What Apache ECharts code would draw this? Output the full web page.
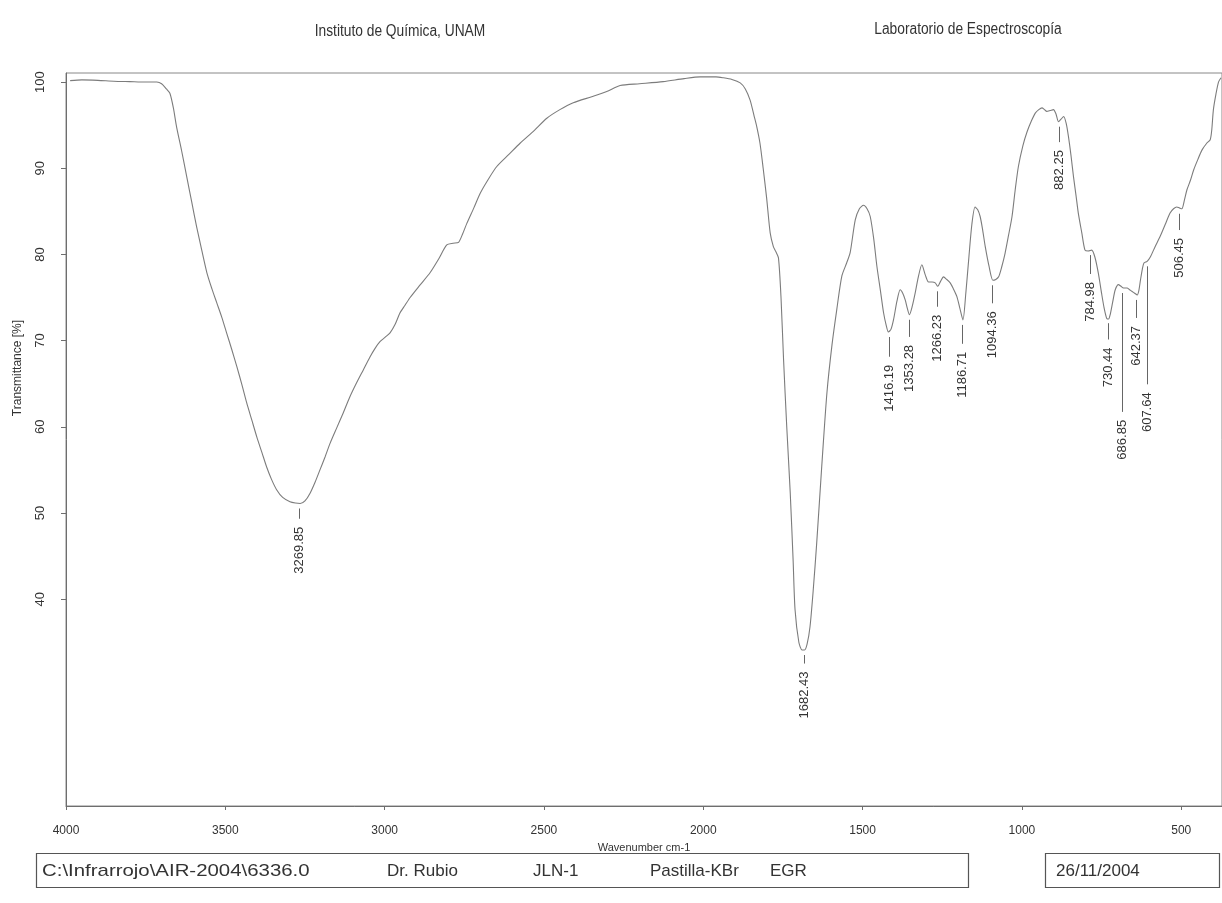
<!DOCTYPE html>
<html>
<head>
<meta charset="utf-8">
<script src="https://cdn.jsdelivr.net/npm/echarts@6/dist/echarts.min.js"></script>
<style>
html,body{margin:0;padding:0;background:#fff;}
#chart{width:1222px;height:903px;}
</style>
</head>
<body>
<div id="chart"></div>
<script>
// ---- Data ----
const wavenumbers = [3987,3950,3900,3850,3800,3750,3715,3700,3685,3674,3663,3653,3637,3621,3605,3590,3574,3558,3542,3527,3511,3496,3480,3464,3448,3433,3417,3401,3385,3370,3355,3339,3320,3297,3280,3265,3250,3234,3218,3203,3187,3171,3150,3130,3110,3088,3067,3046,3030,3014,2998,2983,2967,2952,2936,2920,2890,2857,2830,2805,2785,2768,2755,2742,2720,2700,2675,2648,2610,2575,2530,2491,2450,2408,2350,2303,2261,2200,2126,2060,2010,1960,1938,1910,1884,1868,1853,1840,1832,1822,1812,1801,1790,1780,1772,1764,1756,1748,1738,1727,1718,1712,1700,1690,1682,1674,1665,1655,1644,1628,1612,1596,1581,1565,1550,1539,1523,1510,1497,1486,1476,1465,1455,1444,1434,1426,1419,1411,1403,1392,1382,1374,1366,1360,1353,1344,1335,1325,1314,1303,1293,1282,1272,1264,1255,1246,1236,1225,1215,1204,1195,1185,1176,1167,1157,1147,1139,1131,1123,1115,1103,1091,1082,1073,1063,1053,1042,1031,1021,1011,997,984,970,958,947,937,929,922,911,901,893,885,877,869,861,854,846,838,830,823,812,802,792,781,771,760,750,742,734,728,723,715,707,697,689,681,670,662,654,646,638,633,628,622,617,607,597,582,566,550,535,524,514,506,498,490,482,471,461,448,435,420,409,404,399,391,383,375];
const transmittance = [100.16,100.25,100.2,100.1,100.05,100.0,100.0,99.8,99.2,98.7,97.0,94.8,92.0,89.0,86.0,83.2,80.5,77.9,76.0,74.4,72.7,70.9,69.0,67.0,64.9,62.8,60.8,58.8,57.0,55.3,53.9,52.7,51.8,51.3,51.15,51.1,51.4,52.3,53.6,55.0,56.5,58.1,59.9,61.6,63.4,65.1,66.6,68.1,69.1,69.9,70.4,70.9,71.9,73.2,74.1,75.0,76.4,77.9,79.5,81.1,81.3,81.4,82.4,83.6,85.4,87.1,88.7,90.2,91.6,92.9,94.4,95.8,96.8,97.6,98.3,98.9,99.6,99.8,100.05,100.4,100.6,100.6,100.5,100.3,99.9,99.2,97.9,96.0,94.8,92.9,90.0,86.5,82.5,80.9,80.3,79.6,75.0,67.8,60.0,52.3,44.5,38.8,35.0,34.1,34.1,34.8,36.8,41.0,46.5,55.5,63.9,69.5,73.6,77.5,79.0,80.2,84.0,85.3,85.7,85.3,84.4,81.8,78.6,75.8,73.2,71.8,71.0,71.3,72.4,74.6,75.9,75.5,74.7,73.8,73.0,74.0,75.5,77.4,78.8,77.6,76.8,76.8,76.7,76.3,76.9,77.4,77.1,76.7,76.0,75.1,73.8,72.4,75.5,79.4,83.5,85.5,85.2,84.4,82.8,80.9,78.6,77.0,77.1,77.4,78.6,80.1,82.2,84.4,87.5,90.2,92.6,94.2,95.5,96.4,96.8,97.0,96.8,96.6,96.7,96.8,96.3,95.4,95.7,96.0,95.2,93.7,91.5,89.0,86.8,84.8,82.5,80.5,80.4,80.5,79.7,77.8,75.5,73.8,72.6,72.5,73.0,74.5,75.9,76.5,76.3,76.1,76.1,75.9,75.7,75.5,75.3,75.8,77.0,78.3,79.0,79.2,79.7,80.9,82.1,83.5,84.8,85.3,85.5,85.4,85.3,86.3,87.5,88.6,89.8,91.0,92.1,92.9,93.3,94.5,96.8,98.6,100.0,100.5];

// Peak annotations: position, transmittance at the peak, transmittance where the label text starts
const peakLabels = ["3269.85","1682.43","1416.19","1353.28","1266.23","1186.71","1094.36","882.25","784.98","730.44","686.85","642.37","607.64","506.45"];
const peakWavenumbers = [3269.85,1682.43,1416.19,1353.28,1266.23,1186.71,1094.36,882.25,784.98,730.44,686.85,642.37,607.64,506.45];
const peakTransmittance = [51.1,34.1,71.0,73.0,76.3,72.4,77.0,95.4,80.5,72.6,76.1,75.3,79.2,85.3];
const peakLabelT = [48.4,31.6,67.2,69.5,73.0,68.7,73.4,92.1,76.8,69.2,60.8,71.7,64.0,81.9];

const xTicks = [4000,3500,3000,2500,2000,1500,1000,500];
const yTicks = [40,50,60,70,80,90,100];

const headerLeft = "Instituto de Química, UNAM";
const headerRight = "Laboratorio de Espectroscopía";
const footerItems = ["C:\\Infrarrojo\\AIR-2004\\6336.0","Dr. Rubio","JLN-1","Pastilla-KBr","EGR"];
const footerDate = "26/11/2004";
const xAxisTitle = "Wavenumber cm-1";
const yAxisTitle = "Transmittance [%]";

// ---- Build ----
const spectrum = wavenumbers.map((w,i)=>[w, transmittance[i]]);
const peaks = peakWavenumbers.map((w,i)=>[w, peakTransmittance[i], peakLabelT[i], i]);

const FONT = "'Liberation Sans', Arial, sans-serif";
const chart = echarts.init(document.getElementById('chart'), null, {renderer:'canvas'});
const axisColor = '#6e6e6e';
const textColor = '#333';

const footerX = [42, 387, 533, 650, 770];
const footerScale = [1.2, 1, 1, 1, 1];

chart.setOption({
  animation:false,
  backgroundColor:'#ffffff',
  grid:{left:66, right:0, top:73, bottom:97, show:true, borderColor:'#888', borderWidth:1},
  xAxis:{
    type:'value', inverse:true, min:372, max:4000,
    name:xAxisTitle, nameLocation:'middle', nameGap:36,
    nameTextStyle:{fontFamily:FONT, fontSize:11, color:textColor},
    axisLine:{show:true, lineStyle:{color:axisColor, width:1}},
    axisTick:{show:true, customValues:xTicks, length:4, lineStyle:{color:axisColor}},
    axisLabel:{customValues:xTicks, formatter:(v)=>String(v), fontFamily:FONT, fontSize:12, color:textColor, margin:19},
    splitLine:{show:false}
  },
  yAxis:{
    type:'value', min:16, max:101.05,
    axisLine:{show:true, lineStyle:{color:axisColor, width:1}},
    axisTick:{show:true, customValues:yTicks, length:5, lineStyle:{color:axisColor}},
    axisLabel:{customValues:yTicks, formatter:(v)=>String(v), rotate:90, fontFamily:FONT, fontSize:13, color:textColor, margin:19},
    splitLine:{show:false}
  },
  graphic:[
    {type:'text', x:400, y:32, scaleX:0.86, style:{text:headerLeft, font:'16px '+FONT, fill:textColor, align:'center', verticalAlign:'middle'}},
    {type:'text', x:968, y:30, scaleX:0.86, style:{text:headerRight, font:'16px '+FONT, fill:textColor, align:'center', verticalAlign:'middle'}},
    {type:'text', x:18, y:368, rotation:Math.PI/2, style:{text:yAxisTitle, font:'12px '+FONT, fill:textColor, align:'center', verticalAlign:'middle'}},
    {type:'rect', shape:{x:36.5, y:853.5, width:932, height:34}, style:{fill:'none', stroke:'#555', lineWidth:1.2}},
    {type:'rect', shape:{x:1045.5, y:853.5, width:174, height:34}, style:{fill:'none', stroke:'#555', lineWidth:1.2}},
    {type:'text', x:1056, y:871, style:{text:footerDate, font:'17px '+FONT, fill:textColor, align:'left', verticalAlign:'middle'}}
  ].concat(footerItems.map((t,i)=>({type:'text', x:footerX[i], y:871, scaleX:footerScale[i], style:{text:t, font:'17px '+FONT, fill:textColor, align:'left', verticalAlign:'middle'}}))),
  series:[
    {
      type:'line', data:spectrum, showSymbol:false, symbol:'none', smooth:0.25,
      lineStyle:{color:'#7c7c7c', width:1.1}, silent:true, z:3
    },
    {
      type:'custom', data:peaks, silent:true, z:4,
      renderItem:function(params, api){
        const w = api.value(0), tc = api.value(1), tl = api.value(2);
        const idx = api.value(3);
        const p1 = api.coord([w, tc]);
        const p2 = api.coord([w, tl]);
        const x = Math.round(p1[0]) + 0.5;
        return {type:'group', children:[
          {type:'line', shape:{x1:x, y1:p1[1]+5, x2:x, y2:p2[1]-8}, style:{stroke:'#666', lineWidth:1}},
          {type:'text', x:x, y:p2[1], rotation:Math.PI/2,
            style:{text:peakLabels[idx], font:'13px '+FONT, fill:textColor, align:'right', verticalAlign:'middle'}}
        ]};
      }
    }
  ]
});
</script>
</body>
</html>
